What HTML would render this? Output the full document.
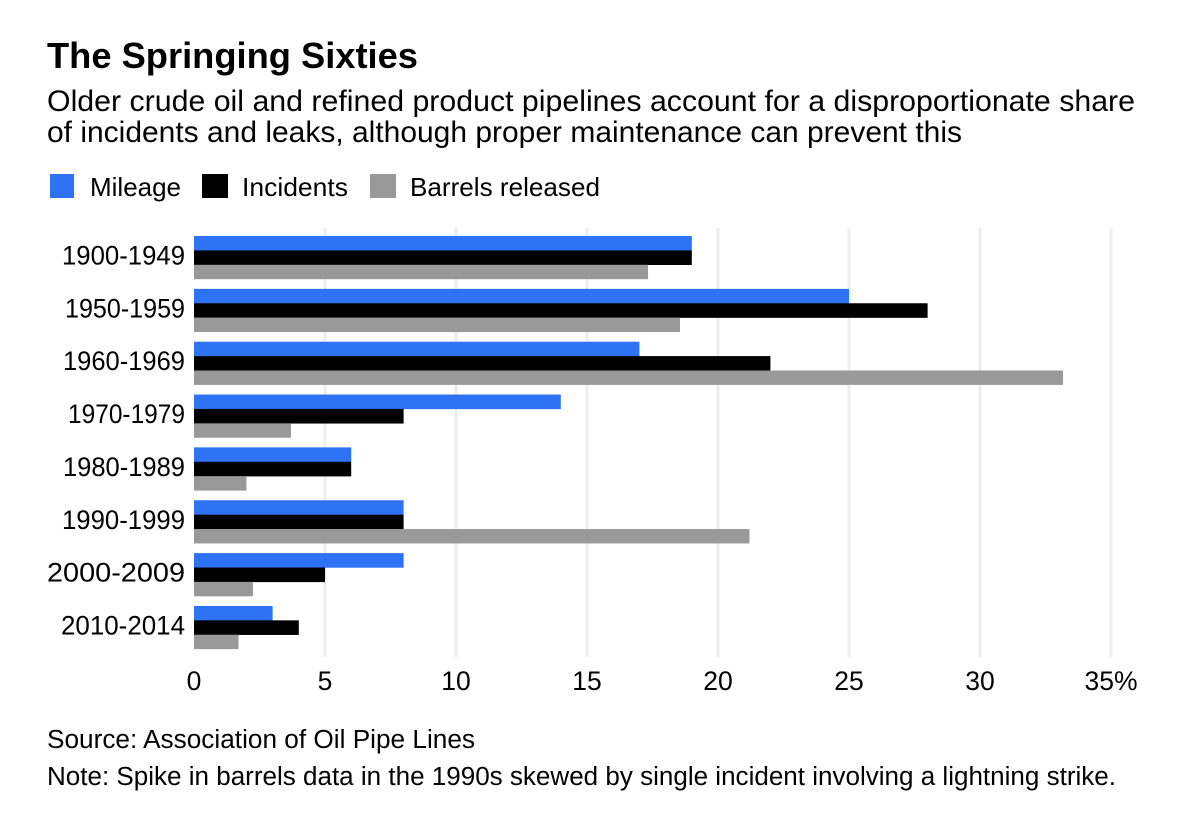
<!DOCTYPE html>
<html>
<head>
<meta charset="utf-8">
<title>The Springing Sixties</title>
<style>
html,body{margin:0;padding:0;background:#fff;width:1196px;height:820px;overflow:hidden}
svg{display:block}
text{font-family:"Liberation Sans",sans-serif;fill:#000}
</style>
</head>
<body>
<svg id="chart" width="1196" height="820" viewBox="0 0 1196 820" xmlns="http://www.w3.org/2000/svg">
  <rect width="1196" height="820" fill="#fff"/>
  <text x="47" y="68" font-size="36.5" font-weight="700" textLength="371" lengthAdjust="spacingAndGlyphs">The Springing Sixties</text>
  <text x="47" y="111" font-size="30" textLength="1088" lengthAdjust="spacingAndGlyphs">Older crude oil and refined product pipelines account for a disproportionate share</text>
  <text x="47" y="142" font-size="30" textLength="915" lengthAdjust="spacingAndGlyphs">of incidents and leaks, although proper maintenance can prevent this</text>

  <rect x="50" y="174" width="24" height="24" fill="#2e72f6"/>
  <text x="90" y="196" font-size="26" textLength="91" lengthAdjust="spacingAndGlyphs">Mileage</text>
  <rect x="202" y="174" width="26" height="24" fill="#000"/>
  <text x="242" y="196" font-size="26" textLength="106" lengthAdjust="spacingAndGlyphs">Incidents</text>
  <rect x="370" y="174" width="26" height="24" fill="#999"/>
  <text x="410" y="196" font-size="26" textLength="190" lengthAdjust="spacingAndGlyphs">Barrels released</text>

  <g id="grid"></g>
  <g id="bars"></g>
  <g id="ylabels"></g>
  <g id="xlabels"></g>

  <text x="47" y="748" font-size="25.5" textLength="428" lengthAdjust="spacingAndGlyphs">Source: Association of Oil Pipe Lines</text>
  <text x="47" y="785" font-size="25.5" textLength="1069" lengthAdjust="spacingAndGlyphs">Note: Spike in barrels data in the 1990s skewed by single incident involving a lightning strike.</text>
</svg>
<script>
const categories = ["1900-1949","1950-1959","1960-1969","1970-1979","1980-1989","1990-1999","2000-2009","2010-2014"];
const mileage = [19,25,17,14,6,8,8,3];
const incidents = [19,28,22,8,6,8,5,4];
const barrels = [17.33,18.55,33.17,3.7,2,21.2,2.25,1.7];
const xTicks = [0,5,10,15,20,25,30,35];
const xTickLabels = ["0","5","10","15","20","25","30","35%"];

const NS = "http://www.w3.org/2000/svg";
const plotLeft = 194, unit = 26.2, plotTop = 236, groupStep = 52.85, barH = 14.4;
const labelFit = {"1900-1949":123,"1950-1959":120,"1960-1969":122,"1970-1979":117,"1980-1989":122,"1990-1999":123,"2000-2009":138,"2010-2014":124};
const seriesList = [
  {key:"mileage", values:mileage, color:"#2e72f6"},
  {key:"incidents", values:incidents, color:"#000"},
  {key:"barrels", values:barrels, color:"#999"}
];
function xScale(v){ return plotLeft + v * unit; }
function yScale(i){ return plotTop + i * groupStep; }
function make(tag, attrs, parent){
  const el = document.createElementNS(NS, tag);
  for (const k in attrs) el.setAttribute(k, attrs[k]);
  parent.appendChild(el);
  return el;
}
const gridG = document.getElementById("grid");
const barsG = document.getElementById("bars");
const yG = document.getElementById("ylabels");
const xG = document.getElementById("xlabels");

xTicks.forEach(function(t, i){
  if (t !== 0) {
    const line = make("rect", {x:xScale(t)-1.5, y:228, width:3, height:429, fill:"#eeeeee"}, gridG);
    
    
  }
  const label = make("text", {x:xScale(t), y:690, "font-size":26.5, "text-anchor":"middle"}, xG);
  label.textContent = xTickLabels[i];
  
  
});

categories.forEach(function(c, i){
  const label = make("text", {x:185, y:yScale(i)+28.5, "font-size":26.5, "text-anchor":"end", textLength:labelFit[c], lengthAdjust:"spacingAndGlyphs"}, yG);
  label.textContent = c;
  
  
  seriesList.forEach(function(s, j){
    const bar = make("rect", {
      x:xScale(0), y:yScale(i)+j*barH, width:xScale(s.values[i])-xScale(0), height:barH+(j<2?0.2:0), fill:s.color
    }, barsG);
    
    
    bar.setAttribute('data-series', s.key);
  });
});
</script>
</body>
</html>
